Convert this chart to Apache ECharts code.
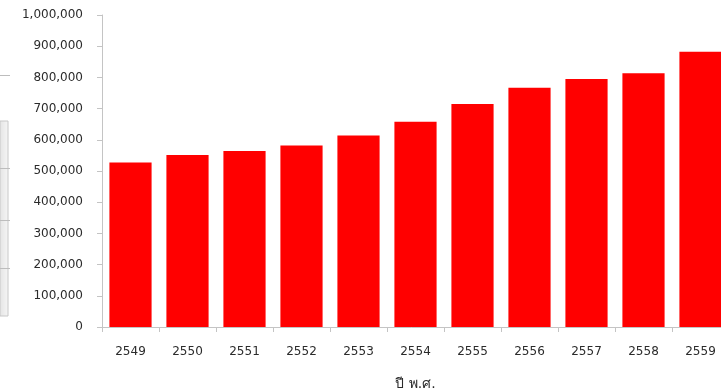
<!DOCTYPE html>
<html>
<head>
<meta charset="utf-8">
<script src="https://cdn.jsdelivr.net/npm/echarts@6/dist/echarts.min.js"></script>
<style>
  html, body { margin: 0; padding: 0; background: #fff; }
  #chart { width: 721px; height: 390px; }
</style>
</head>
<body>
<div id="chart"></div>
<script>
// Years (Buddhist Era) and yearly totals
const years = ['2549', '2550', '2551', '2552', '2553', '2554', '2555', '2556', '2557', '2558', '2559'];
const totals = [527000, 551000, 564000, 582000, 614000, 658000, 715000, 767000, 795000, 813000, 882000];
const yTicks = [0, 100000, 200000, 300000, 400000, 500000, 600000, 700000, 800000, 900000, 1000000];
const xAxisTitle = 'ปี พ.ศ.';

const font = "'DejaVu Sans', Verdana, 'Noto Sans', sans-serif";
const axisGrey = '#c4c4c4';
const textColor = '#2b2b2b';

const chart = echarts.init(document.getElementById('chart'), null, { renderer: 'canvas' });

chart.setOption({
  backgroundColor: '#ffffff',
  animation: false,
  grid: { left: 102, top: 15, width: 627, height: 312, containLabel: false, outerBoundsMode: 'none' },
  xAxis: {
    type: 'category',
    data: years,
    name: xAxisTitle,
    nameLocation: 'middle',
    nameGap: 50,
    nameTextStyle: { fontFamily: font, fontSize: 14, color: textColor },
    axisLine: { show: true, lineStyle: { color: axisGrey, width: 1 } },
    axisTick: { show: true, alignWithLabel: false, length: 5, lineStyle: { color: axisGrey } },
    axisLabel: { fontFamily: font, fontSize: 12, color: textColor, margin: 19 },
    splitLine: { show: false }
  },
  yAxis: {
    type: 'value',
    min: yTicks[0],
    max: yTicks[yTicks.length - 1],
    interval: yTicks[1] - yTicks[0],
    axisLine: { show: true, lineStyle: { color: axisGrey, width: 1 } },
    axisTick: { show: true, inside: false, length: 5, lineStyle: { color: axisGrey } },
    axisLabel: {
      fontFamily: font, fontSize: 12, color: textColor, margin: 19,
      formatter: v => v.toLocaleString('en-US')
    },
    splitLine: { show: false }
  },
  series: [{
    type: 'bar',
    data: totals,
    barCategoryGap: '26%',
    itemStyle: { color: '#ff0000' }
  }],
  graphic: [
    // edge of a neighbouring panel at the far left
    { type: 'line', shape: { x1: 0, y1: 75.5, x2: 10, y2: 75.5 }, style: { stroke: '#bdbdbd', lineWidth: 1 } },
    {
      type: 'rect', shape: { x: 0, y: 121, width: 8, height: 195 },
      style: {
        fill: new echarts.graphic.LinearGradient(0, 0, 1, 0, [
          { offset: 0, color: '#e4e4e4' }, { offset: 1, color: '#f6f6f6' }
        ]),
        stroke: '#c8c8c8', lineWidth: 1
      }
    },
    { type: 'line', shape: { x1: 0, y1: 168.5, x2: 10, y2: 168.5 }, style: { stroke: '#bdbdbd', lineWidth: 1 } },
    { type: 'line', shape: { x1: 0, y1: 220.5, x2: 10, y2: 220.5 }, style: { stroke: '#bdbdbd', lineWidth: 1 } },
    { type: 'line', shape: { x1: 0, y1: 268.5, x2: 10, y2: 268.5 }, style: { stroke: '#bdbdbd', lineWidth: 1 } }
  ]
});
</script>
</body>
</html>
